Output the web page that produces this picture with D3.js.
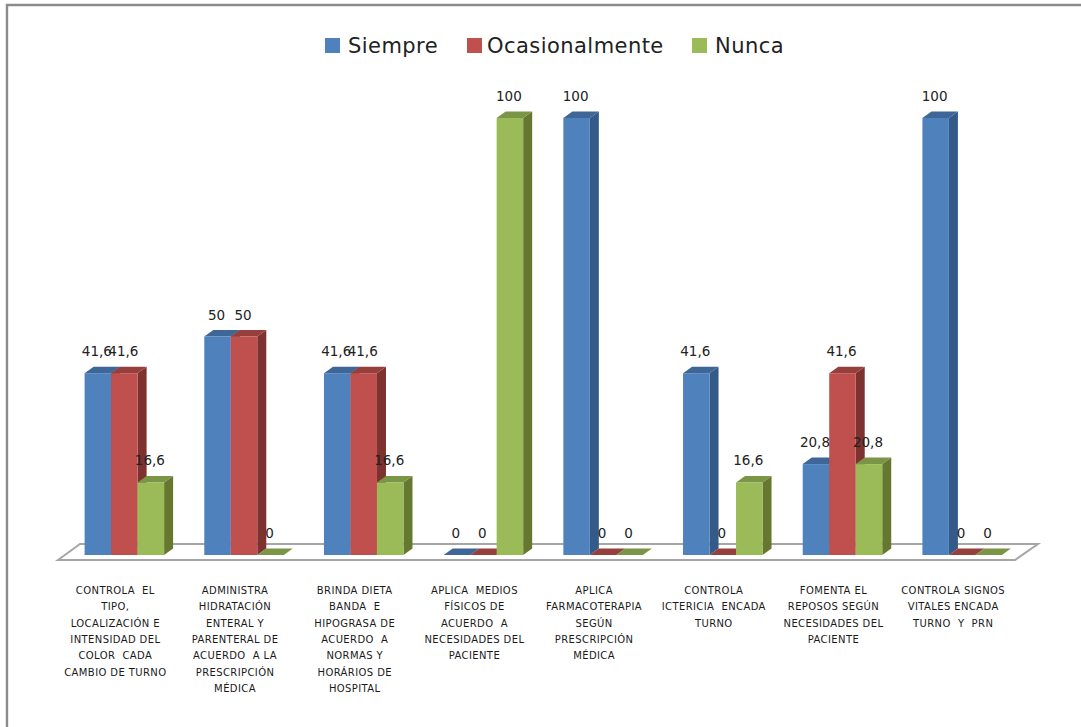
<!DOCTYPE html>
<html>
<head>
<meta charset="utf-8">
<script src="https://cdn.jsdelivr.net/npm/d3@7"></script>
<style>
  html, body { margin: 0; padding: 0; background: #fff; }
  svg { display: block; }
</style>
</head>
<body>
<script>
var seriesNames = ["Siempre", "Ocasionalmente", "Nunca"];
var seriesColors = ["#4f81bd", "#c0504d", "#9bbb59"];
var sideColors = ["#345a8a", "#7d3230", "#66782f"];
var topColors = ["#3e6696", "#973f3c", "#7b9546"];

var categoryLines = [
  ["CONTROLA  EL", "TIPO,", "LOCALIZACIÓN E", "INTENSIDAD DEL", "COLOR  CADA", "CAMBIO DE TURNO"],
  ["ADMINISTRA", "HIDRATACIÓN", "ENTERAL Y", "PARENTERAL DE", "ACUERDO  A LA", "PRESCRIPCIÓN", "MÉDICA"],
  ["BRINDA DIETA", "BANDA  E", "HIPOGRASA DE", "ACUERDO  A", "NORMAS Y", "HORÁRIOS DE", "HOSPITAL"],
  ["APLICA  MEDIOS", "FÍSICOS DE", "ACUERDO  A", "NECESIDADES DEL", "PACIENTE"],
  ["APLICA", "FARMACOTERAPIA", "SEGÚN", "PRESCRIPCIÓN", "MÉDICA"],
  ["CONTROLA", "ICTERICIA  ENCADA", "TURNO"],
  ["FOMENTA EL", "REPOSOS SEGÚN", "NECESIDADES DEL", "PACIENTE"],
  ["CONTROLA SIGNOS", "VITALES ENCADA", "TURNO  Y  PRN"]
];

var siempre = [41.6, 50, 41.6, 0, 100, 41.6, 20.8, 100];
var ocasionalmente = [41.6, 50, 41.6, 0, 0, 0, 41.6, 0];
var nunca = [16.6, 0, 16.6, 100, 0, 16.6, 20.8, 0];
var seriesValues = [siempre, ocasionalmente, nunca];

var width = 1081;
var height = 727;
var baseY = 555;
var depthX = 9;
var depthY = 6.5;
var barWidth = 26.5;

var svg = d3.select("body")
  .append("svg")
  .attr("width", width)
  .attr("height", height);

var x = d3.scaleBand()
  .domain(d3.range(categoryLines.length))
  .range([64.5, 1022]);

var xSeries = d3.scaleBand()
  .domain(d3.range(seriesNames.length))
  .range([0, barWidth * seriesNames.length]);

var y = d3.scaleLinear()
  .domain([0, 100])
  .range([baseY, 118]);

// outer frame, only top and left edges are visible
svg.append("path")
  .attr("d", "M7," + height + "V5H" + width)
  .attr("fill", "none")
  .attr("stroke", "#8c8c8c")
  .attr("stroke-width", 2.4);

// floor of the 3D plot
svg.append("polygon")
  .attr("points", [[58, 560], [80, 544], [1038, 544], [1015, 560]].join(" "))
  .attr("fill", "#fff")
  .attr("stroke", "#a6a6a6")
  .attr("stroke-width", 2);

var bars = [];
categoryLines.forEach(function(lines, c) {
  seriesValues.forEach(function(values, s) {
    bars.push({ c: c, s: s, value: values[c] });
  });
});

function barX(d) {
  return x(d.c) + (x.bandwidth() - xSeries.bandwidth() * 3) / 2 + xSeries(d.s);
}

function topPoints(d) {
  var x0 = barX(d), x1 = x0 + xSeries.bandwidth(), yTop = y(d.value);
  return [[x0, yTop], [x0 + depthX, yTop - depthY], [x1 + depthX, yTop - depthY], [x1, yTop]].join(" ");
}

function sidePoints(d) {
  var x1 = barX(d) + xSeries.bandwidth(), yTop = y(d.value);
  return [[x1, yTop], [x1 + depthX, yTop - depthY], [x1 + depthX, baseY - depthY], [x1, baseY]].join(" ");
}

var bar = svg.selectAll("g.bar")
  .data(bars)
  .enter()
  .append("g")
  .attr("class", "bar");

bar.append("polygon")
  .attr("points", sidePoints)
  .attr("fill", function(d) { return sideColors[d.s]; });

bar.append("polygon")
  .attr("points", topPoints)
  .attr("fill", function(d) { return topColors[d.s]; });

bar.filter(function(d) { return d.value > 0; })
  .append("rect")
  .attr("x", barX)
  .attr("y", function(d) { return y(d.value); })
  .attr("width", xSeries.bandwidth())
  .attr("height", function(d) { return baseY - y(d.value); })
  .attr("fill", function(d) { return seriesColors[d.s]; });

// value labels use a decimal comma
svg.selectAll("text.value")
  .data(bars)
  .enter()
  .append("text")
  .attr("class", "value")
  .text(function(d) { return String(d.value).replace(".", ","); })
  .attr("x", function(d) { return barX(d) + xSeries.bandwidth() / 2 - 1; })
  .attr("y", function(d) { return y(d.value) - 17; })
  .attr("font-family", "'DejaVu Sans', sans-serif")
  .attr("font-size", "13.5px")
  .attr("fill", "#222")
  .attr("text-anchor", "middle");

// category labels
var labels = svg.selectAll("text.category")
  .data(categoryLines)
  .enter()
  .append("text")
  .attr("class", "category")
  .attr("font-family", "'DejaVu Sans', sans-serif")
  .attr("font-size", "10px")
  .attr("letter-spacing", "0.4px")
  .attr("fill", "#1a1a1a")
  .attr("text-anchor", "middle")
  .attr("xml:space", "preserve");

labels.selectAll("tspan")
  .data(function(d, i) {
    return d.map(function(line, n) { return { line: line, n: n, c: i }; });
  })
  .enter()
  .append("tspan")
  .text(function(d) { return d.line; })
  .attr("x", function(d) { return x(d.c) + x.bandwidth() / 2 - 9; })
  .attr("y", function(d) { return 594 + d.n * 16.3; });

// legend
var legendSwatchX = [325, 467, 692];
var legendTextX = [348, 487, 715];

var legend = svg.selectAll("g.legend")
  .data(seriesNames)
  .enter()
  .append("g")
  .attr("class", "legend");

legend.append("rect")
  .attr("x", function(d, i) { return legendSwatchX[i]; })
  .attr("y", 38)
  .attr("width", 15)
  .attr("height", 15)
  .attr("fill", function(d, i) { return seriesColors[i]; });

legend.append("text")
  .text(function(d) { return d; })
  .attr("x", function(d, i) { return legendTextX[i]; })
  .attr("y", 52.5)
  .attr("font-family", "'DejaVu Sans', sans-serif")
  .attr("font-size", "21px")
  .attr("letter-spacing", "0.45px")
  .attr("fill", "#222");
</script>
</body>
</html>
